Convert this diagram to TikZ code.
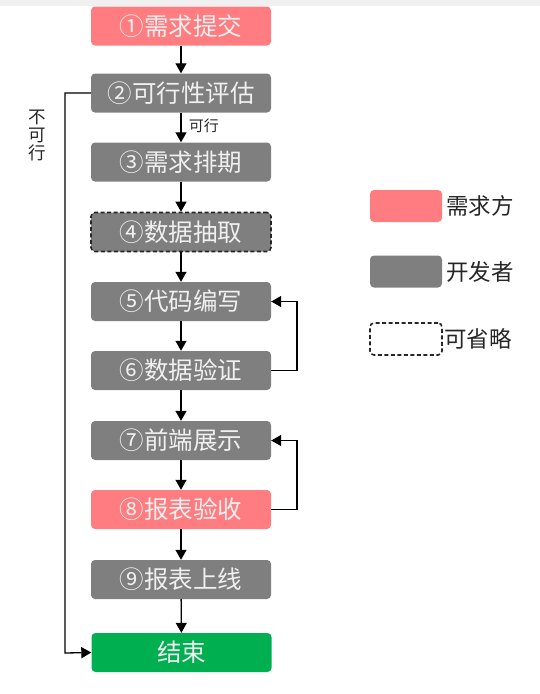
\documentclass[tikz,border=0pt]{standalone}
\usepackage{fontspec}
\setmainfont{Noto Sans CJK SC}
\usetikzlibrary{arrows.meta}
\definecolor{reqred}{HTML}{FF7C80}
\definecolor{devgrey}{HTML}{7F7F7F}
\definecolor{endgreen}{HTML}{00B050}
\begin{document}
\begin{tikzpicture}[x=1pt,y=-1pt,
  stepbox/.style={rounded corners=4pt,minimum width=180pt,minimum height=39pt,inner sep=0pt,
    text=white!94!black,font=\fontsize{24.5}{24.5}\selectfont,anchor=center},
  grey/.style={stepbox,fill=devgrey},
  red/.style={stepbox,fill=reqred},
  dashbox/.style={stepbox,fill=devgrey,draw=black!85,line width=1.6pt,dash pattern=on 4pt off 2.5pt},
  conn/.style={line width=1.3pt,-{Triangle[width=11pt,length=10pt]}},
  leg/.style={rounded corners=4pt,minimum width=72pt,minimum height=32pt,inner sep=0pt},
  legtext/.style={font=\fontsize{22.5}{22.5}\selectfont,anchor=west,inner sep=0pt,text=black!85}]
\useasboundingbox (0,0) rectangle (540,694);
\fill[black!6] (0,0) rectangle (540,6);
\node[red] (s1) at (181,26) {①需求提交};
\node[grey] (s2) at (181,93) {②可行性评估};
\node[grey] (s3) at (181,162) {③需求排期};
\node[dashbox] (s4) at (181,232) {④数据抽取};
\node[grey] (s5) at (181,301.5) {⑤代码编写};
\node[grey] (s6) at (181,370.5) {⑥数据验证};
\node[grey] (s7) at (181,440.5) {⑦前端展示};
\node[red] (s8) at (181,509.5) {⑧报表验收};
\node[grey] (s9) at (181,579.5) {⑨报表上线};
\node[stepbox,fill=endgreen] (end) at (181.5,652.5) {结束};
\draw[conn] (s1) -- (s2);
\draw[conn] (s2) -- node[right,font=\fontsize{15}{15}\selectfont,text=black!85,xshift=4pt,yshift=2pt] (ok) {可行} (s3);
\draw[conn] (s3) -- (s4);
\draw[conn] (s4) -- (s5);
\draw[conn] (s5) -- (s6);
\draw[conn] (s6) -- (s7);
\draw[conn] (s7) -- (s8);
\draw[conn] (s8) -- (s9);
\draw[conn] (s9) -- (end);
\coordinate (l1) at (65,93);
\coordinate (l2) at (65,653);
\draw[conn] (s2.west) -- (l1) -- (l2) -- (end.west);
\node[font=\fontsize{17.5}{18}\selectfont,text=black!85,align=center,inner sep=0pt] (no) at (37,135) {不\\可\\行};
\coordinate (r1) at (297,370.5);
\coordinate (r2) at (297,301.5);
\draw[conn] (s6.east) -- (r1) -- (r2) -- (s5.east);
\coordinate (r3) at (297,509.5);
\coordinate (r4) at (297,440.5);
\draw[conn] (s8.east) -- (r3) -- (r4) -- (s7.east);
\node[leg,fill=reqred] (k1) at (406,206) {};
\node[legtext] (t1) at (446,206) {需求方};
\node[leg,fill=devgrey] (k2) at (406,271.5) {};
\node[legtext] (t2) at (446,271.5) {开发者};
\node[leg,draw=black!85,line width=1.6pt,dash pattern=on 4pt off 2.5pt] (k3) at (406,339) {};
\node[legtext] (t3) at (444,339) {可省略};
\end{tikzpicture}
\end{document}
